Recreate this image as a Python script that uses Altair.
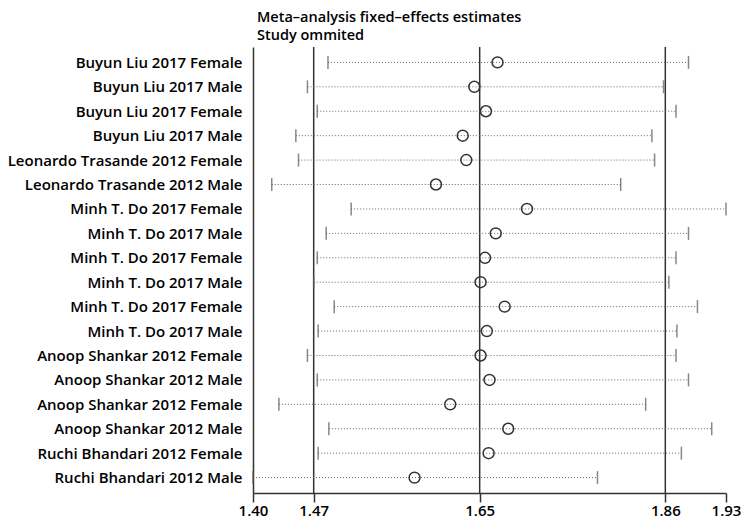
import json
import altair as alt
import pandas as pd

labels = [
    "Buyun Liu 2017 Female",
    "Buyun Liu 2017 Male",
    "Buyun Liu 2017 Female",
    "Buyun Liu 2017 Male",
    "Leonardo Trasande 2012 Female",
    "Leonardo Trasande 2012 Male",
    "Minh T. Do 2017 Female",
    "Minh T. Do 2017 Male",
    "Minh T. Do 2017 Female",
    "Minh T. Do 2017 Male",
    "Minh T. Do 2017 Female",
    "Minh T. Do 2017 Male",
    "Anoop Shankar 2012 Female",
    "Anoop Shankar 2012 Male",
    "Anoop Shankar 2012 Female",
    "Anoop Shankar 2012 Male",
    "Ruchi Bhandari 2012 Female",
    "Ruchi Bhandari 2012 Male",
]
estimate = [1.674, 1.648, 1.661, 1.635, 1.639, 1.605, 1.707, 1.672, 1.660,
            1.655, 1.682, 1.662, 1.655, 1.665, 1.621, 1.686, 1.664, 1.581]
lower = [1.484, 1.461, 1.472, 1.448, 1.451, 1.421, 1.510, 1.482, 1.472,
         1.468, 1.491, 1.473, 1.461, 1.472, 1.429, 1.485, 1.473, 1.400]
upper = [1.888, 1.860, 1.874, 1.847, 1.850, 1.812, 1.930, 1.888, 1.874,
         1.866, 1.898, 1.875, 1.874, 1.888, 1.840, 1.914, 1.880, 1.786]
overall = [1.468, 1.654, 1.862]
x_min, x_max = 1.40, 1.93
tick_values = [x_min] + overall + [x_max]
title_lines = ["Meta–analysis fixed–effects estimates", "Study ommited"]

df = pd.DataFrame({
    "idx": list(range(1, len(labels) + 1)),
    "label": labels,
    "est": estimate,
    "lo": lower,
    "hi": upper,
})
ref_df = pd.DataFrame({"v": overall})

FONT = "Open Sans"
WEIGHT = 600
label_expr = "%s[datum.value - 1]" % json.dumps(labels, ensure_ascii=False)

x_scale = alt.Scale(domain=[x_min, x_max], nice=False, zero=False)
x_axis = alt.Axis(
    values=tick_values, format=".2f", title=None, grid=False,
    tickSize=9, tickColor="#333", tickWidth=1.5,
    domainColor="#333", domainWidth=1.5,
    labelFontSize=15, labelFont=FONT, labelFontWeight=WEIGHT, labelColor="black",
    labelPadding=1, labelFlush=False, labelOverlap=False,
)


def xenc(field):
    return alt.X(field, type="quantitative", scale=x_scale, axis=x_axis)


y_enc = alt.Y(
    "idx:O",
    scale=alt.Scale(type="point", padding=0.63),
    axis=alt.Axis(
        title=None, ticks=False, labelExpr=label_expr, labelPadding=11,
        labelFontSize=15, labelFont=FONT, labelFontWeight=WEIGHT, labelColor="black",
        domainColor="#333", domainWidth=1.5, labelLimit=0, grid=False,
    ),
)

refs = alt.Chart(ref_df).mark_rule(color="#333", strokeWidth=1.5).encode(x=xenc("v"))
ci = alt.Chart(df).mark_rule(color="#666", strokeWidth=1, strokeDash=[1, 2]).encode(
    x=xenc("lo"), x2="hi", y=y_enc
)
cap_lo = alt.Chart(df).mark_tick(color="#555", thickness=1.5, size=13, orient="vertical").encode(
    x=xenc("lo"), y=y_enc
)
cap_hi = alt.Chart(df).mark_tick(color="#555", thickness=1.5, size=13, orient="vertical").encode(
    x=xenc("hi"), y=y_enc
)
pts = alt.Chart(df).mark_point(shape="circle", filled=False, size=120, color="#333",
                               strokeWidth=1.5, opacity=1).encode(
    x=xenc("est"), y=y_enc
)

chart = alt.layer(refs, ci, cap_lo, cap_hi, pts).properties(
    width=473,
    height=446,
    title=alt.TitleParams(
        text=title_lines, anchor="start", frame="group", fontSize=14.5, font=FONT,
        fontWeight=WEIGHT, color="black", lineHeight=18, offset=3, dx=4,
    ),
    autosize=alt.AutoSizeParams(type="none"),
    padding={"left": 245, "top": 39, "right": 16, "bottom": 26},
).configure_view(stroke=None)

chart.save("out.html", embed_options={"renderer": "svg", "actions": False})
